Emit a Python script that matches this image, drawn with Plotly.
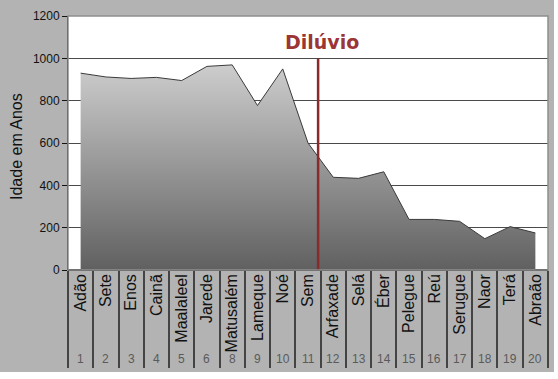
import plotly.graph_objects as go

# ---- data ----
names = ["Adão", "Sete", "Enos", "Cainã", "Maalaleel", "Jarede", "Matusalém",
         "Lameque", "Noé", "Sem", "Arfaxade", "Selá", "Éber", "Pelegue", "Reú",
         "Serugue", "Naor", "Terá", "Abraão"]
numbers = ["1", "2", "3", "4", "5", "6", "8", "9", "10", "11", "12", "13", "14",
           "15", "16", "17", "18", "19", "20"]
ages = [930, 912, 905, 910, 895, 962, 969, 777, 950, 600, 438, 433, 464, 239,
        239, 230, 148, 205, 175]
y_ticks = [0, 200, 400, 600, 800, 1000, 1200]
flood_label = "Dilúvio"
flood_pos = 9.4          # between Sem and Arfaxade
flood_top = 1000
y_title = "Idade em Anos"

W, H = 558, 379
ML, MR, MT, MB = 68, 10, 16, 109
PW, PH = W - ML - MR, H - MT - MB

FONT = "Arial, Liberation Sans, sans-serif"
idx = list(range(len(names)))

fig = go.Figure()
fig.add_trace(go.Scatter(
    x=idx, y=ages, mode="lines", fill="tozeroy",
    line=dict(color="#3a3a3a", width=1),
    fillgradient=dict(type="vertical", start=0, stop=max(ages),
                      colorscale=[[0, "#606060"], [1, "#cdcdcd"]]),
    hoverinfo="skip", showlegend=False))
# invisible trace on the separator axis
fig.add_trace(go.Scatter(x=idx, y=ages, xaxis="x2", mode="lines",
                         line=dict(width=0), hoverinfo="skip", showlegend=False))

n = len(names)
fig.update_layout(
    width=W, height=H,
    margin=dict(l=ML, r=MR, t=MT, b=MB, pad=0),
    paper_bgcolor="#b3b3b3", plot_bgcolor="white",
    font=dict(family=FONT, color="#111"),
    xaxis=dict(range=[-0.5, n - 0.5], tickmode="array", tickvals=idx,
               ticktext=names, tickangle=-90, ticks="", showgrid=False,
               zeroline=False, showline=False,
               tickfont=dict(size=16, color="#111", family=FONT)),
    xaxis2=dict(overlaying="x", anchor="y", side="bottom",
                range=[-0.5, n - 0.5], tickmode="array",
                tickvals=[i - 0.5 for i in range(n + 1)],
                showticklabels=False, ticks="outside", ticklen=97,
                tickwidth=1.5, tickcolor="#444", showgrid=False,
                zeroline=False, showline=False),
    yaxis=dict(range=[0, 1200], tickmode="array", tickvals=y_ticks,
               ticks="outside", ticklen=5, tickcolor="#111", showline=True,
               linecolor="#111", linewidth=1, showgrid=True, gridcolor="#4a4a4a",
               gridwidth=1, zeroline=True, zerolinecolor="#222",
               tickfont=dict(size=12, color="#111", family=FONT)),
)

ann = []
for i, t in enumerate(numbers):
    ann.append(dict(x=i, y=(270 - 359) / PH, xref="x", yref="paper", text=t,
                    showarrow=False, xanchor="center", yanchor="middle",
                    font=dict(size=12, color="#5a5a5a", family=FONT)))
ann.append(dict(x=-(ML - 16) / PW, y=(270 - 147) / PH, xref="paper", yref="paper",
                text=y_title, textangle=-90, showarrow=False,
                xanchor="center", yanchor="middle",
                font=dict(size=16, color="#111", family=FONT)))
ann.append(dict(x=flood_pos + 0.14, y=1075, xref="x", yref="y",
                text="<b>" + flood_label + "</b>", showarrow=False,
                xanchor="center", yanchor="middle",
                font=dict(size=19, color="#9c3535", family="Verdana, DejaVu Sans")))
fig.update_layout(annotations=ann)

shapes = [
    dict(type="line", xref="x", yref="y", x0=flood_pos, x1=flood_pos, y0=0,
         y1=flood_top, line=dict(color="#8b2a2a", width=2.5), layer="above"),
    dict(type="rect", xref="paper", yref="paper", x0=0, x1=1, y0=0, y1=1,
         line=dict(color="#8f8f8f", width=1.5), layer="above"),
    # white frame outside the grey chart area
    dict(type="rect", xref="paper", yref="paper", x0=(554 - ML) / PW,
         x1=(W + 5 - ML) / PW, y0=-0.6, y1=1.2, fillcolor="white",
         line=dict(width=0), layer="above"),
    dict(type="rect", xref="paper", yref="paper", x0=-0.3, x1=1.1,
         y0=(270 - H - 5) / PH, y1=(270 - 372) / PH, fillcolor="white",
         line=dict(width=0), layer="above"),
]
fig.update_layout(shapes=shapes)

fig.write_html("out.html")
